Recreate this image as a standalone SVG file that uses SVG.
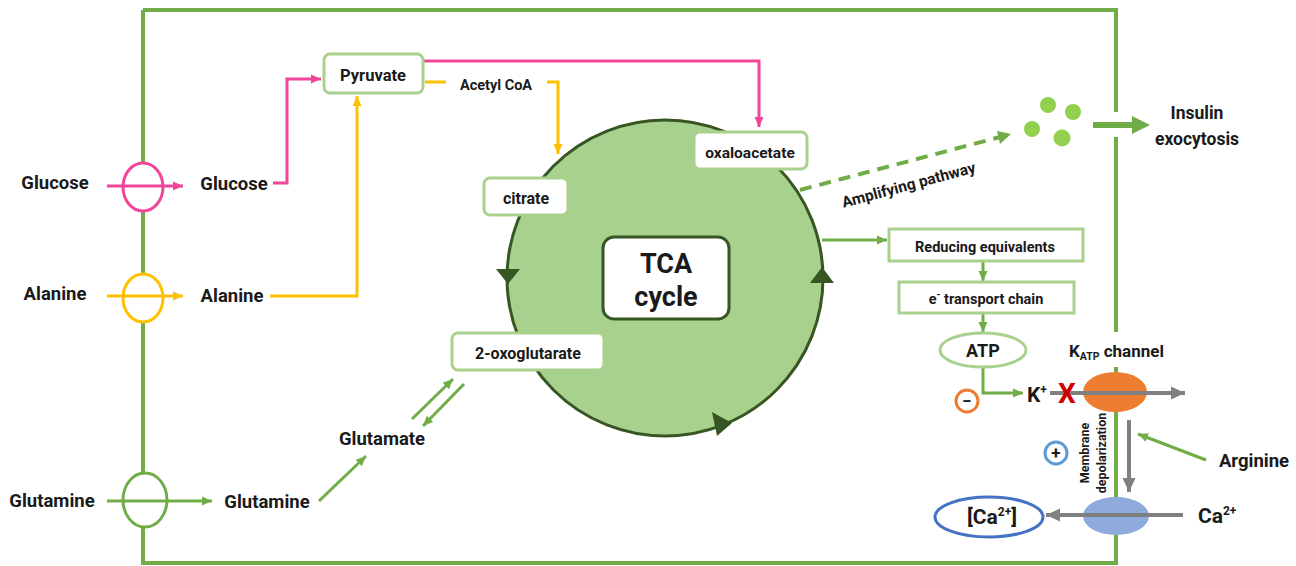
<svg xmlns="http://www.w3.org/2000/svg" width="1296" height="566" viewBox="0 0 1296 566">
<style>
text{font-family:Roboto,"Liberation Sans",sans-serif;font-weight:700;fill:#1a1a1a}
.c{text-anchor:middle}
.border{fill:none;stroke:#70ad47;stroke-width:4}
.g{fill:none;stroke:#70ad47;stroke-width:3}
.pk{fill:none;stroke:#f0459b;stroke-width:3}
.yl{fill:none;stroke:#ffc000;stroke-width:3}
.gr{fill:none;stroke:#808080;stroke-width:4}
.box{fill:#fff;stroke:#a9d18e;stroke-width:3}
</style>
<defs>
<marker id="mp" markerUnits="userSpaceOnUse" markerWidth="12" markerHeight="12" refX="10" refY="6" orient="auto"><path d="M0,1.5 L10,6 L0,10.5Z" fill="#f0459b"/></marker>
<marker id="my" markerUnits="userSpaceOnUse" markerWidth="12" markerHeight="12" refX="10" refY="6" orient="auto"><path d="M0,1.5 L10,6 L0,10.5Z" fill="#ffc000"/></marker>
<marker id="mg" markerUnits="userSpaceOnUse" markerWidth="12" markerHeight="12" refX="10" refY="6" orient="auto"><path d="M0,1.5 L10,6 L0,10.5Z" fill="#70ad47"/></marker>
<marker id="mgr" markerUnits="userSpaceOnUse" markerWidth="16" markerHeight="16" refX="14" refY="8" orient="auto"><path d="M0,1.5 L14,8 L0,14.5Z" fill="#808080"/></marker>
</defs>

<g id="cell-membrane">
<path class="border" d="M143,10 H1116 V112 M1116,137 V332 M1116,367 V563 H143 V10"/>
</g>

<g id="connectors">
<path class="pk" d="M273,183 H287 V79 H321" marker-end="url(#mp)"/>
<path class="pk" d="M423,61 H759 V127" marker-end="url(#mp)"/>
<path class="yl" d="M270,296 H357 V96" marker-end="url(#my)"/>
<path class="yl" d="M425,82 H446"/>
<path class="yl" d="M547,82 H558 V154" marker-end="url(#my)"/>
<path class="g" d="M319,501 L366,456" marker-end="url(#mg)"/>
<path class="g" d="M412,419 L453,379" marker-end="url(#mg)"/>
<path class="g" d="M464,384 L423,426" marker-end="url(#mg)"/>
<path class="g" d="M822,240 H887" marker-end="url(#mg)"/>
<path class="g" d="M983,262 V281" marker-end="url(#mg)"/>
<path class="g" d="M983,314 V332" marker-end="url(#mg)"/>
<path class="g" d="M983,368 V393 H1023" marker-end="url(#mg)"/>
<path d="M800,190 L1000,137" fill="none" stroke="#70ad47" stroke-width="4" stroke-dasharray="12 8"/>
<path d="M997,131 L1011,134 L1000,144Z" fill="#70ad47"/>
<path d="M1093,125 H1134" fill="none" stroke="#70ad47" stroke-width="6"/>
<path d="M1132,116 L1150,125 L1132,134Z" fill="#70ad47"/>
<path class="g" d="M1206,460 L1138,434" marker-end="url(#mg)"/>
</g>

<g id="glucose-transporter">
<ellipse cx="143" cy="187" rx="20" ry="24" fill="#fff" stroke="#f0459b" stroke-width="3"/>
<path class="pk" d="M107,186 H183" marker-end="url(#mp)"/>
<text x="55" y="189" class="c" font-size="18.5">Glucose</text>
<text x="234" y="190" class="c" font-size="18.5">Glucose</text>
</g>

<g id="alanine-transporter">
<ellipse cx="143" cy="298" rx="20" ry="24" fill="#fff" stroke="#ffc000" stroke-width="3"/>
<path class="yl" d="M107,296 H183" marker-end="url(#my)"/>
<text x="55" y="300" class="c" font-size="18.5">Alanine</text>
<text x="232" y="302" class="c" font-size="18.5">Alanine</text>
</g>

<g id="glutamine-transporter">
<ellipse cx="145" cy="500" rx="22" ry="27" fill="#fff" stroke="#70ad47" stroke-width="3"/>
<path class="g" d="M107,501 H212" marker-end="url(#mg)"/>
<text x="52" y="507" class="c" font-size="18.5">Glutamine</text>
<text x="267" y="508" class="c" font-size="18.5">Glutamine</text>
</g>

<g id="pyruvate">
<rect class="box" x="324" y="54" width="99" height="39" rx="6"/>
<text x="373" y="81" class="c" font-size="16.5">Pyruvate</text>
</g>

<g id="acetyl-coa">
<text x="496" y="90" class="c" font-size="14.5">Acetyl CoA</text>
</g>

<g id="tca-cycle">
<circle cx="665" cy="278" r="158" fill="#a9d18e" stroke="#375623" stroke-width="3"/>
<path d="M496,269 L520,269 L508,284Z" fill="#375623"/>
<path d="M822,267 L810,283 L834,283Z" fill="#375623"/>
<path d="M732,423 L712,412 L717,436Z" fill="#375623"/>
<rect x="603" y="237" width="126" height="82" rx="11" fill="#fff" stroke="#375623" stroke-width="3"/>
<text x="666" y="273" class="c" font-size="27">TCA</text>
<text x="666" y="306" class="c" font-size="27">cycle</text>
</g>

<g id="oxaloacetate">
<rect class="box" x="694" y="132" width="113" height="37" rx="6"/>
<text x="750" y="158" class="c" font-size="15.5">oxaloacetate</text>
</g>

<g id="citrate">
<rect class="box" x="484" y="178" width="84" height="37" rx="6"/>
<text x="526" y="204" class="c" font-size="16">citrate</text>
</g>

<g id="oxoglutarate">
<rect class="box" x="452" y="333" width="152" height="37" rx="6"/>
<text x="528" y="359" class="c" font-size="16">2-oxoglutarate</text>
</g>

<g id="glutamate">
<text x="382" y="445" class="c" font-size="18.5">Glutamate</text>
</g>

<g id="amplifying-pathway">
<text x="0" y="0" class="c" font-size="15.5" transform="translate(910,190) rotate(-15)">Amplifying pathway</text>
</g>

<g id="insulin-granules">
<circle cx="1048" cy="105" r="8" fill="#92d050"/>
<circle cx="1073" cy="112" r="8" fill="#92d050"/>
<circle cx="1032" cy="129" r="8" fill="#92d050"/>
<circle cx="1062" cy="138" r="8.5" fill="#92d050"/>
</g>

<g id="insulin-exocytosis">
<text x="1197" y="119" class="c" font-size="17.5">Insulin</text>
<text x="1197" y="145" class="c" font-size="17.5">exocytosis</text>
</g>

<g id="reducing-equivalents">
<rect class="box" x="889" y="229" width="194" height="32"/>
<text x="985" y="252" class="c" font-size="14.5">Reducing equivalents</text>
</g>

<g id="electron-transport">
<rect class="box" x="899" y="282" width="175" height="31"/>
<text x="986" y="304" class="c" font-size="14.5">e<tspan font-size="10" dy="-6">-</tspan><tspan dy="6"> transport chain</tspan></text>
</g>

<g id="atp">
<ellipse class="box" cx="983" cy="350" rx="43" ry="17"/>
<text x="983" y="357" class="c" font-size="18">ATP</text>
</g>

<g id="inhibit">
<circle cx="967" cy="401" r="11" fill="#fff" stroke="#ed7d31" stroke-width="3"/>
<text x="967" y="407" class="c" font-size="17">−</text>
</g>

<g id="katp-channel">
<ellipse cx="1115" cy="392" rx="32" ry="20" fill="#ed7d31"/>
<path class="gr" d="M1050,393 H1185" marker-end="url(#mgr)"/>
<text x="1027" y="402" font-size="21">K<tspan font-size="12" dy="-8">+</tspan></text>
<text x="1067" y="403" class="c" font-size="28" style="fill:#d00000">X</text>
<text x="1069" y="357" font-size="17">K<tspan font-size="10.5" dy="3">ATP</tspan><tspan dy="-3"> channel</tspan></text>
</g>

<g id="depolarization">
<text class="c" font-size="12.5" transform="translate(1089,453) rotate(-90)">Membrane</text>
<text class="c" font-size="12.5" transform="translate(1106,453) rotate(-90)">depolarization</text>
<path class="gr" d="M1129,420 V492" marker-end="url(#mgr)"/>
</g>

<g id="activate">
<circle cx="1056" cy="453" r="11" fill="#fff" stroke="#5b9bd5" stroke-width="3"/>
<text x="1056" y="459" class="c" font-size="17">+</text>
</g>

<g id="arginine">
<text x="1254" y="467" class="c" font-size="18.5">Arginine</text>
</g>

<g id="ca-channel">
<ellipse cx="1116" cy="516" rx="33" ry="19" fill="#8faadc"/>
<path class="gr" d="M1183,515 H1046" marker-end="url(#mgr)"/>
<text x="1198" y="523" font-size="21">Ca<tspan font-size="12" dy="-8">2+</tspan></text>
</g>

<g id="intracellular-ca">
<ellipse cx="989" cy="517" rx="54" ry="20" fill="#fff" stroke="#4472c4" stroke-width="3"/>
<text x="967" y="524" font-size="21">[Ca<tspan font-size="12" dy="-8">2+</tspan><tspan dy="8">]</tspan></text>
</g>
</svg>
